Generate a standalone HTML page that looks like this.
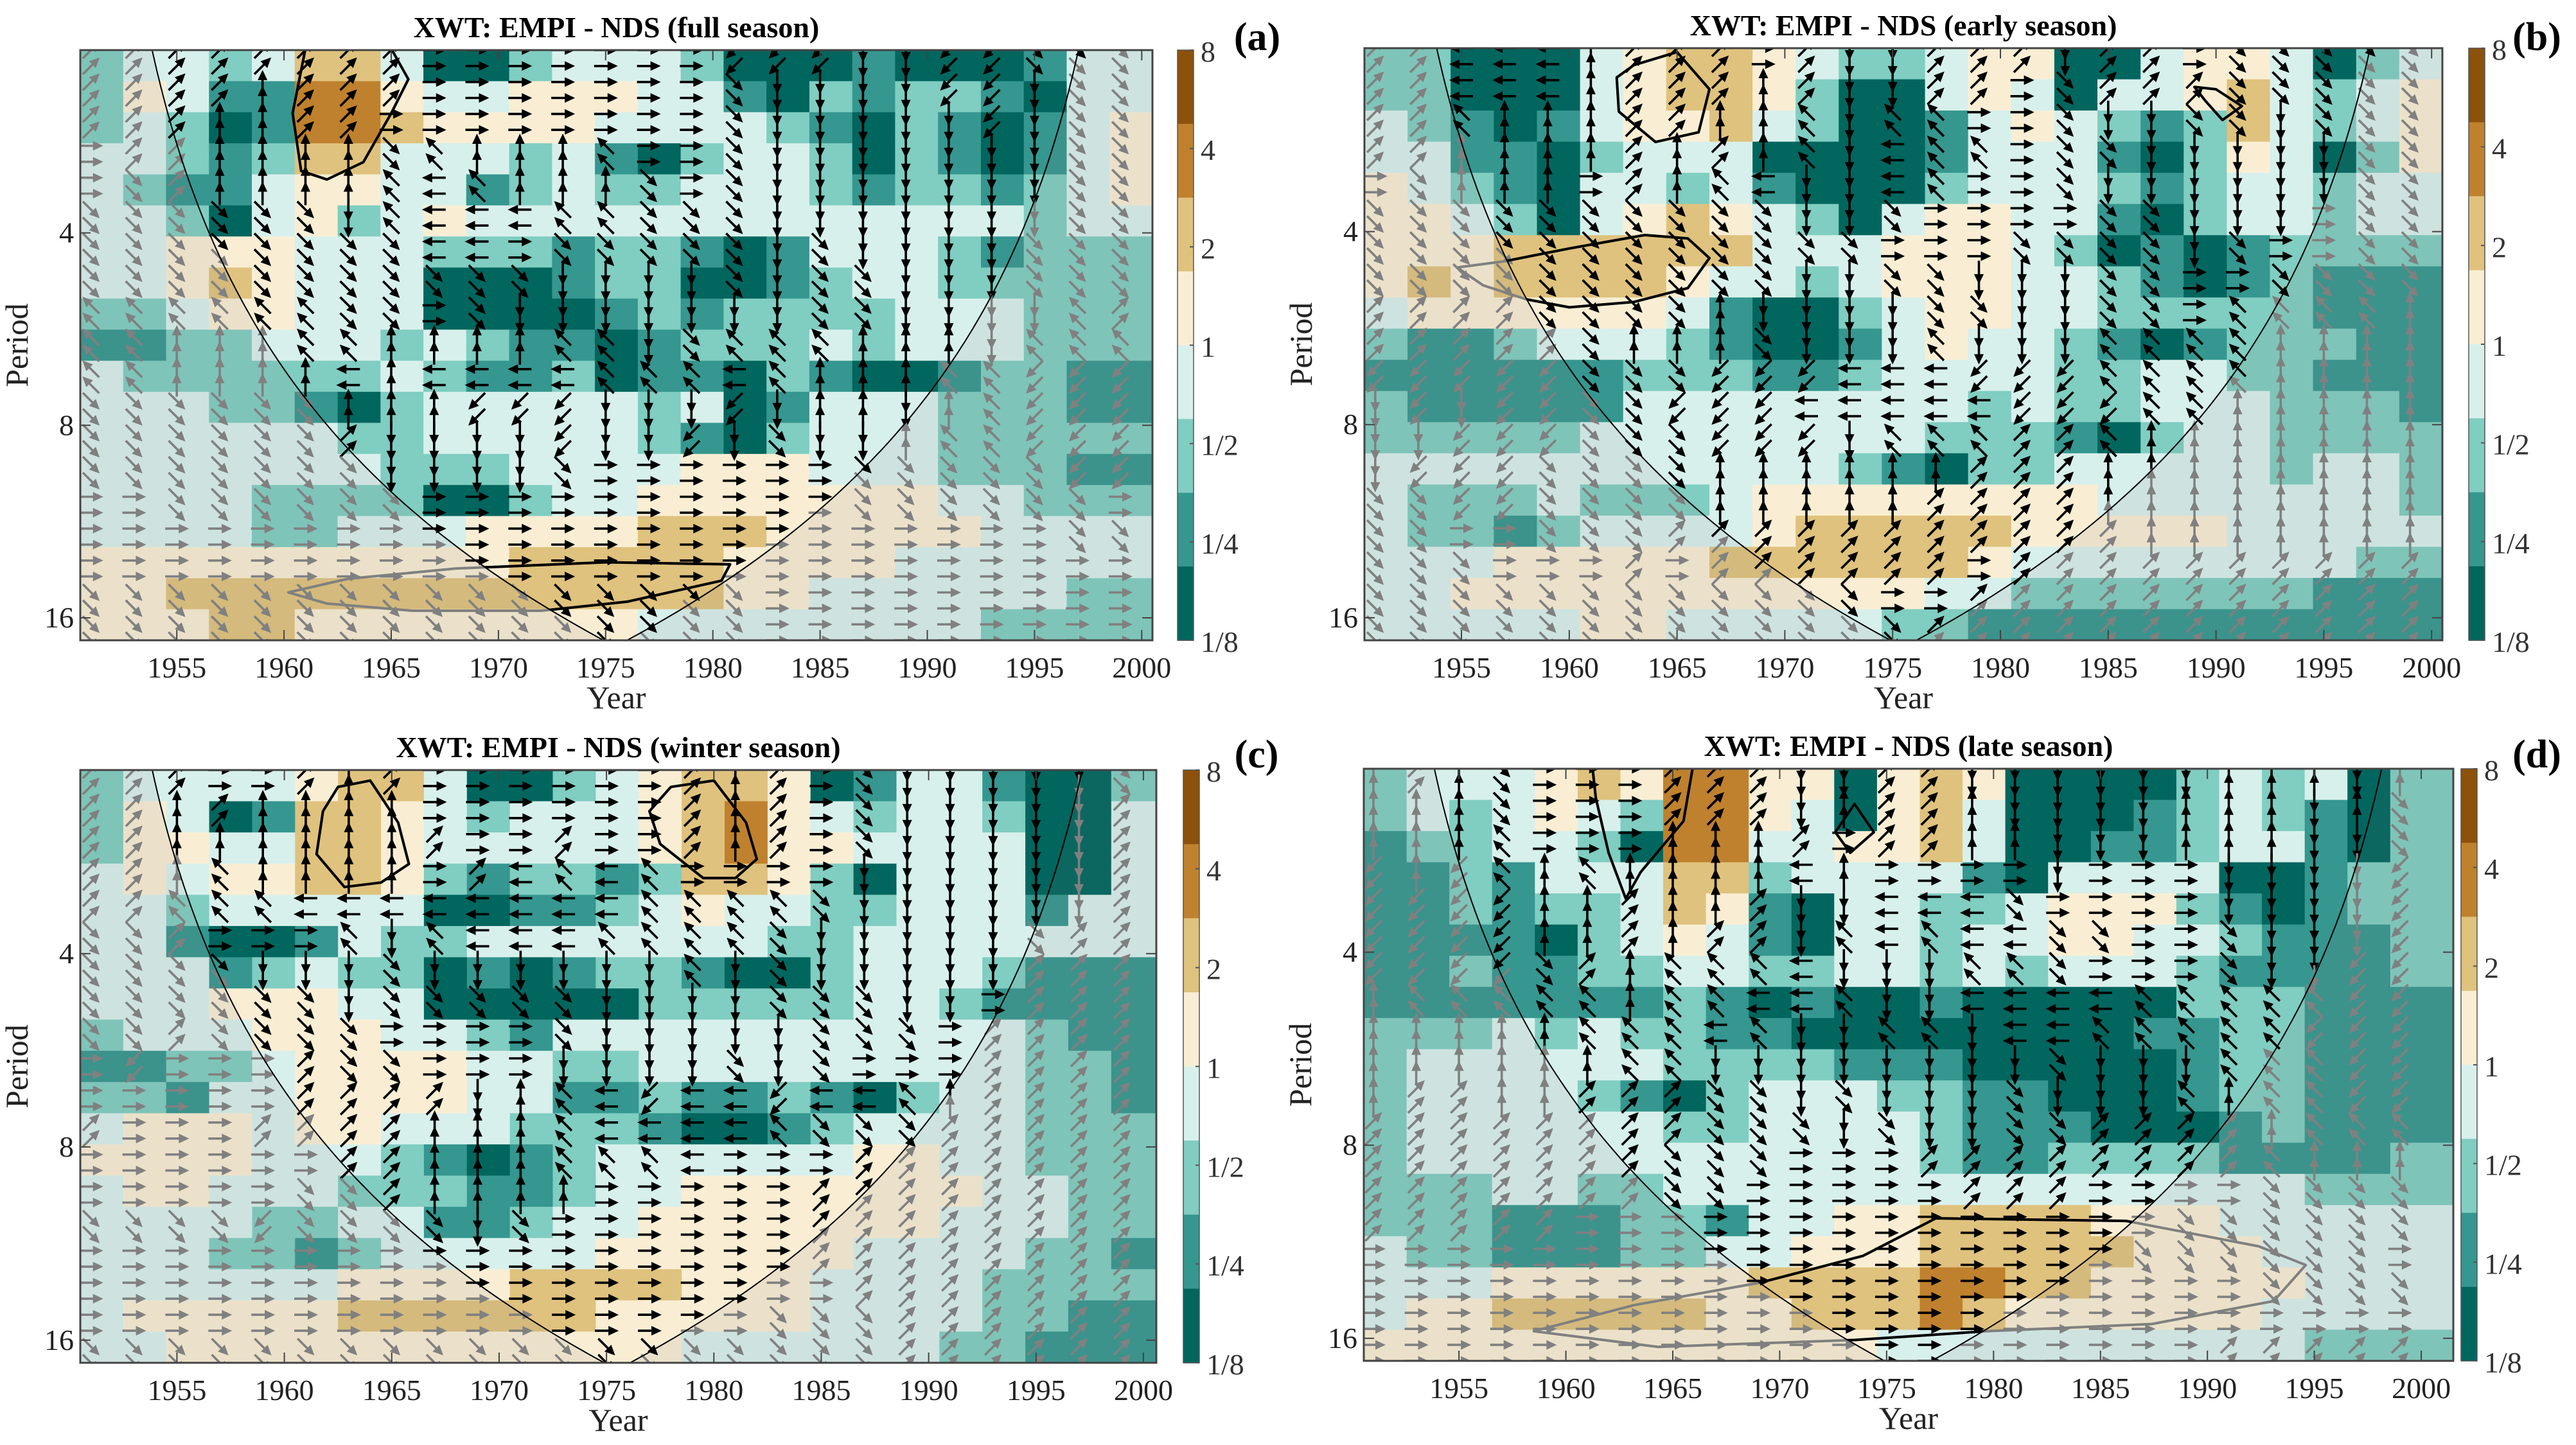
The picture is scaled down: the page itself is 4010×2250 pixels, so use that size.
<!DOCTYPE html>
<html><head><meta charset="utf-8"><title>XWT EMPI - NDS</title>
<style>html,body{margin:0;padding:0;background:#fff;}svg{display:block;font-family:"Liberation Serif",serif;}text{font-family:"Liberation Serif",serif;}</style>
</head><body>
<svg id="fig" width="4010" height="2250" viewBox="0 0 4010 2250" xmlns="http://www.w3.org/2000/svg" font-family="Liberation Serif, serif">
<rect x="0" y="0" width="4010" height="2250" fill="#fff"/>
</svg>
<script>
// ---------- data ----------
const yearTicks = [1955,1960,1965,1970,1975,1980,1985,1990,1995,2000];
const periodTicks = [4,8,16];
const cbTickLabels = ['8','4','2','1','1/2','1/4','1/8'];
const panelTitles = ['XWT: EMPI - NDS (full season)','XWT: EMPI - NDS (early season)','XWT: EMPI - NDS (winter season)','XWT: EMPI - NDS (late season)'];
const panelLetters = ['(a)','(b)','(c)','(d)'];
// colour levels 0 (1/8) .. 7 (8), 25 two-year columns x 19 period rows (top = short period)
const colorsA = [
"2332355300233320001000133",
"2431166433444331021221033",
"2320166544443333210210134",
"3321255333231023320210134",
"3211344331232233321221234",
"3320342343333333333333233",
"3344433322212210133321222",
"3345433300012200123322222",
"2234433300001212222333222",
"1122333232110122232333222",
"3222222321120110210012211",
"3332210233333230133322211",
"3333332233333210233322222",
"3333333222333344433322211",
"3333222200233444444433222",
"3333223334444555444443333",
"4444444444555554444333333",
"4455555555555554433333322",
"4445544444444333333332222"];
const colorsB = [
"2200034554322344003443023",
"2200034554200343033453234",
"3210134453200134321253234",
"3311023330000133310243024",
"4321033231000233321233233",
"4432034543203443310233233",
"4445555553334443201012222",
"4545555433234443321012111",
"3444444310023443322222111",
"2112333210013433210122211",
"1111112221123333223322111",
"2111113333333323223332221",
"2222233333333222102332222",
"3333333333321022333332332",
"3222322234444444433333332",
"3221233334555554444433333",
"3334444455555543333333322",
"3344444444444332222222111",
"3333344333332211111111111"];
const colorsC = [
"2333345530023455401331002",
"2430155432333456432332003",
"2443355433333456443333003",
"3434455421221255420333003",
"3323333300112343322333133",
"3310013223333333223333333",
"3331232201012210023332111",
"3334443300000222223321111",
"2333444332133333333333211",
"1122344443322333333333221",
"2213344443311211210233221",
"3444344333222100123333222",
"4444333210123333334433222",
"3443332221123344444443322",
"3333223311233444444433322",
"3332212333334444443333221",
"3333334444555544433332222",
"3444445555554444433332211",
"3344444444444433333322111"];
const colorsD = [
"2333454664404540000232302",
"2323432664304530001232102",
"1223320663344530011233102",
"1121333552333310333300122",
"1121223541033223444210122",
"1111023431033233443321112",
"1121122332233232333211112",
"1111111210100100000222111",
"2223232211000000001122111",
"2333333222211100000122111",
"2333321023332211000122111",
"2333333223333211100012111",
"2333333333333211222211112",
"2223322333333333333333222",
"2221112213344555544433333",
"3221112233444555554443333",
"3334444445555665544444333",
"3445555544555654444443333",
"4444444444443333333333222"];
// phase-arrow directions: E east, N north, W west, S south, a NE, b NW, c SW, d SE
const arrowsA = [
"aaaaaaaaEEEEEEEcccSSccddd","aaaaNaaaEEEEEEEdSSSSccSdd","aaaNNaaEEEEEEEEdSSSSScSdd",
"EaaNNNNdbNNNbEEdSSSSSSSdd","EdaNNNNbWbNNNdEdSSSSSSSdd","ddddddSbWWWbbdddSSSSSSSdd",
"ddddddddWWEdddddSdSSSSddd","dddddddddddSSSSdSddSSSddd","bbbbbbddEdSSSSSSSddSSSSba",
"bbNNNbbNNNNbbSdbbbNNNSbbb","bbNNNNWNWWWWbbbWbNNNbbccc","ddddddNNNcccSSScSNNSNbccc",
"ddddddaSSSScSScSdSSNbbccc","dddddddSSSSdEEEEEEdddddcc","EEddddddEEEEEEEEEEdddddd",
"EEEEEEEEEEEEEEEEEEEEEEEdd","EEEEEEEEEEEEEEEEEEEEEEEEE","ddddddddddddddddEEEEEEEEE",
"ddddddddddddddddEEEEEEEEE"];
const arrowsB = [
"aaWWWNaaaEaSSaaaSaaEddddd","aaWWWNaaaNaSSaaEdaaaddddd","aabNNNaaNNbSbbEEdSSddSddd",
"aaNNNNaNaNbSWbbEddSSSSSdd","EdNNNEaNbWSSWbEEdSSSSSSdd","ddddddddddSSdEEEEddSSSEdd",
"ddddddddddddEEEddddSdEEdd","ddddddddddSSddSSSddEEdddd","aaaaddddNSSSSddSSddEbbbbN",
"aaaaadNNNdSSSbSSSbbbbNNNN","cccccdddcccWWWcccbbbbNNNN","ScSccddcccWWWWWcccbbNNNNN",
"SScccdddcccSbbbaabNNNNNNN","ScccddddNNNNNNaaaNNNNNNNN","ddccddddNNNNNaaaaNNNNNNNN",
"ddEEdddaaaaaaaaaaaNNNNNNN","dddEEEaEaaaaaaEaaaaaaaaaa","ddddddddddddEEaaaaaaaaaaa",
"dddddddddddddaaaaaaaaaaaa"];
const arrowsC = [
"aaaEEaNaEEEEEEaNaEdSSSSSd","aaNaNNNNEEEEEEaNaEdSSSSSa","aaNNNNNNaEEaEEaNaEdSSSSSa",
"aaNbNNNNEaWbWbEEEESSSSSSa","aabbbWWWWWWWWbbbbdSSSSSSa","ddaEEEbSbWWWbbbbdSSSSSdaa",
"ddddSSSdSSSSSSbSdSSSSSaaa","ddddddSdddddSSSSdddSSEaaa","ddaddddEEEEdSSSSSdddEaaaa",
"EcEEEaddEEESSSSdSdEEEaaaa","EEEEEaaaaSNbWcWWcWWbNaaaa","aEEEaaaaNNNbWWWWbdddaaaaa",
"EEEEEEaaNNNbbbWEEEaaaaaaa","EEEEEddaNNNNEEEEEaaaaaaaa","ddddcddddSdEEEEEEaaaaaaaa",
"EEEEEEEEEEEEEEEEEaaaaaaaa","EEEEEEEEEEEEEEEEEEaaaaaaa","EEEEEEEEEEEEEEEEdddaaaaaa",
"dddddddddddddddddddaaaaaa"];
const arrowsD = [
"NaNdEEEaaaSSaaSSSSSSNNNSN","NNNdEEEaaaSNaaNSSSSNNNSNd","NNNbEEENNNaEaaNNSSSNNNSSd",
"cNcbNbNNNNWNEEEESEEESSSSc","ccccNNaNNaSSWWWdEEEESSSSc","ccccNNaNaaSbWbWWddEEdSSSc",
"ccccdaNbbbWSSSbbdEEEdSScc","NbbbbbNbbWWbSSWWWWbbbbbcc","NNNNNbbbWbSSbbSWWbbbbbccc",
"NNNNNNbbSSSSSSSSdSSSbbbcc","NaaNNaaaddSdSSSdSSSbNbbcc","aaaaaaaadddSdSSddaaaaNbbb",
"aaaaaaadddEEEaaaaaaaabNNN","aaaaaaaddEEEEEaaaEEEEdddd","aaaaaEEEEEEEEEEEEEEdddddd",
"EEEEEEEEEEEEEEEEEEdddddd","EEEEEEEEEEEEEEEEEEEEEdddd","EEEEEEEEEEEEEEEEEEEEEEEEE",
"EEEEEEEEEEEEEEEEEEEEaaaaa"];
// significance contours: [year, period]
const contoursA = [
 [[1961.0,2.06],[1960.4,2.6],[1960.8,3.2],[1962.0,3.3],[1963.7,3.1],[1965.0,2.6],[1965.8,2.3],[1965.0,2.06]],
 [[1960.2,14.6],[1963,13.9],[1968,13.4],[1975,13.1],[1980.8,13.2],[1980.4,14.0],[1976,15.1],[1972,15.6],[1966,15.6],[1962,15.2],[1960.2,14.6]]];
const contoursB = [
 [[1963,2.2],[1965,2.1],[1966.5,2.4],[1966,2.8],[1964,2.9],[1962.3,2.6],[1962.2,2.3],[1963,2.2]],
 [[1989,2.38],[1990,2.40],[1991.2,2.55],[1990.3,2.68],[1989.5,2.5],[1989,2.38]],
 [[1954.8,4.55],[1957,4.45],[1960,4.25],[1963.5,4.05],[1965.5,4.1],[1966.5,4.4],[1965.5,4.9],[1963,5.15],[1960,5.25],[1958,5.1],[1956,4.85],[1954.8,4.55]]];
const contoursC = [
 [[1962.5,2.2],[1964,2.15],[1965.3,2.5],[1965.8,2.9],[1964.5,3.1],[1962.8,3.15],[1961.5,2.8],[1961.8,2.4],[1962.5,2.2]],
 [[1978,2.2],[1980,2.15],[1981.5,2.5],[1982,2.85],[1981,3.05],[1979.5,3.05],[1977.5,2.7],[1977,2.4],[1978,2.2]]];
const contoursD = [
 [[1961.2,2.0],[1966,2.0],[1965.5,2.5],[1963.5,3.0],[1962.8,3.3],[1962,2.8],[1961.4,2.3],[1961.2,2.0]],
 [[1973.5,2.35],[1974.4,2.6],[1973.3,2.8],[1972.6,2.6],[1973.5,2.35]],
 [[1969.1,13.1],[1973.9,11.9],[1977.3,10.4],[1986.2,10.5],[1992.4,11.5],[1994.6,12.3],[1993.1,14.0],[1987.4,15.2],[1979.7,15.6],[1973.5,16.1],[1964.3,16.5],[1958.5,15.6],[1963.2,14.2],[1969.1,13.1]]];

// ---------- layout (not data) ----------
const palette = ['#01665e','#35978f','#80cdc1','#d8f0ec','#f9eed4','#dfc27d','#bf812d','#8c510a'];
const dirAngle = {E:0,a:-45,N:-90,b:-135,W:180,c:135,S:90,d:45};
const panels = [
 {L:125,R:1794,T:78,B:997,x0:1950.5,x1:2000.5,tL:1951,tR:1999.9,cbX:1833,letX:1957,letY:78,colors:colorsA,arrows:arrowsA,contours:contoursA},
 {L:2124,R:3802,T:75,B:997,x0:1950.5,x1:2000.5,tL:1951,tR:2000,cbX:3843,letX:3949,letY:78,colors:colorsB,arrows:arrowsB,contours:contoursB},
 {L:125,R:1800,T:1199,B:2122,x0:1950.5,x1:2000.6,tL:1951,tR:2000,cbX:1842,letX:1956,letY:1195,colors:colorsC,arrows:arrowsC,contours:contoursC},
 {L:2123,R:3819,T:1197,B:2119,x0:1950.55,x1:2001.5,tL:1951,tR:2001,cbX:3831,letX:3949,letY:1195,colors:colorsD,arrows:arrowsD,contours:contoursD}];
const P0 = 1.05, P1 = 4.117, COIK = 0.726;
const FONT = 'Liberation Serif, serif';
const NS = 'http://www.w3.org/2000/svg';
const svg = document.getElementById('fig');
const defs = document.createElementNS(NS,'defs');
svg.appendChild(defs);
function mk(tag, attrs, parent){
  const e = document.createElementNS(NS, tag);
  for (const k in attrs) e.setAttribute(k, attrs[k]);
  if (tag === 'text') e.setAttribute('font-family', FONT);
  (parent||svg).appendChild(e);
  return e;
}
const arrowShape = 'M-18,-1.8 L3,-1.8 L3,-7.5 L19,0 L3,7.5 L3,1.8 L-18,1.8 Z';

panels.forEach((p, pi) => {
  const xs = yr => p.L + (yr - p.x0) / (p.x1 - p.x0) * (p.R - p.L);
  const ys = lp => p.T + (lp - P0) / (P1 - P0) * (p.B - p.T);
  const g = mk('g', {});
  
  
  const clipId = 'clip' + pi, coiId = 'coi' + pi;
  const cp = mk('clipPath', {id: clipId}, defs);
  mk('rect', {x:p.L, y:p.T, width:p.R-p.L, height:p.B-p.T}, cp);
  const leftPts = [], rightPts = [];
  for (let v = P0 - 0.3; v <= P1 + 0.3; v += 0.02) {
    const per = Math.pow(2, v);
    const tl = p.tL + per / COIK, tr = p.tR - per / COIK;
    if (tl > tr) break;
    leftPts.push([xs(tl), ys(v)]);
    rightPts.unshift([xs(tr), ys(v)]);
  }
  const mid = (p.tL + p.tR) / 2;
  const vEnd = Math.log2(COIK * (mid - p.tL));
  const coiPts = leftPts.concat([[xs(mid), ys(vEnd)]], rightPts);
  const coiD = 'M' + coiPts.map(q => q[0].toFixed(1) + ',' + q[1].toFixed(1)).join(' L') + ' Z';
  const cc = mk('clipPath', {id: coiId}, defs);
  mk('path', {d: coiD}, cc);

  const plot = mk('g', {'clip-path': 'url(#' + clipId + ')'}, g);
  
  
  const nr = p.colors.length;
  p.colors.forEach((row, r) => {
    for (let c = 0; c < 25; c++) {
      const lvl = +row[c];
      const xa = xs(p.x0 + 2 * c), xb = c === 24 ? p.R : xs(p.x0 + 2 * c + 2);
      const ya = ys(P0 + r * (P1 - P0) / nr), yb = ys(P0 + (r + 1) * (P1 - P0) / nr);
      const cell = mk('rect', {x:xa.toFixed(1), y:ya.toFixed(1), width:(xb-xa+0.8).toFixed(1), height:(yb-ya+0.8).toFixed(1), fill:palette[lvl]}, plot);
      
      
    }
  });
  const shade = mk('path', {d: 'M' + p.L + ',' + (p.T-50) + ' H' + p.R + ' V' + (p.B+50) + ' H' + p.L + ' Z ' + coiD, fill:'rgba(120,120,120,0.10)', 'fill-rule':'evenodd'}, plot);
  
  
  for (let c = 0; c < 25; c++) {
    const t = 1951 + 2 * c;
    for (let k = 0; k <= 37; k++) {
      const v = P0 + k * (P1 - P0) / 37;
      const rr = Math.min(nr - 1, Math.floor(k * nr / 38));
      const ch = p.arrows[rr][c] || 'E';
      const per = Math.pow(2, v);
      const inside = per < COIK * Math.min(t - p.tL, p.tR - t);
      const ar = mk('path', {d: arrowShape, fill: inside ? '#000' : '#808080', transform: 'translate(' + xs(t).toFixed(1) + ',' + ys(v).toFixed(1) + ') rotate(' + dirAngle[ch] + ')'}, plot);
      
      
    }
  }
  p.contours.forEach(ct => {
    const d = 'M' + ct.map(q => xs(q[0]).toFixed(1) + ',' + ys(Math.log2(q[1])).toFixed(1)).join(' L') + ' Z';
    const gl = mk('path', {d: d, fill:'none', stroke:'#808080', 'stroke-width':4, 'stroke-linejoin':'round'}, plot);
    
    
    const gi = mk('g', {'clip-path': 'url(#' + coiId + ')'}, plot);
    const bl = mk('path', {d: d, fill:'none', stroke:'#000', 'stroke-width':4, 'stroke-linejoin':'round'}, gi);
    
    
  });
  const coiLine = mk('path', {d: coiD, fill:'none', stroke:'#000', 'stroke-width':2}, plot);
  
  
  const frame = mk('rect', {x:p.L, y:p.T, width:p.R-p.L, height:p.B-p.T, fill:'none', stroke:'#444', 'stroke-width':3}, g);
  
  
  yearTicks.forEach(yr => {
    const x = xs(yr);
    mk('path', {d:'M' + x + ',' + p.B + ' v-16 M' + x + ',' + p.T + ' v16', stroke:'#444', 'stroke-width':2}, g);
    const tl = mk('text', {x:x, y:p.B + 58, 'font-size':46, 'text-anchor':'middle', fill:'#222'}, g);
    tl.textContent = yr;
    
    
  });
  periodTicks.forEach(pr => {
    const y = ys(Math.log2(pr));
    mk('path', {d:'M' + p.L + ',' + y + ' h16 M' + p.R + ',' + y + ' h-16', stroke:'#444', 'stroke-width':2}, g);
    const tl = mk('text', {x:p.L - 10, y:y + 15, 'font-size':46, 'text-anchor':'end', fill:'#222'}, g);
    tl.textContent = pr;
    
    
  });
  const xl = mk('text', {x:(p.L + p.R) / 2, y:p.B + 106, 'font-size':50, 'text-anchor':'middle', fill:'#222'}, g);
  xl.textContent = 'Year';
  
  
  const yl = mk('text', {x:0, y:0, 'font-size':50, 'text-anchor':'middle', fill:'#222', transform:'translate(' + (p.L - 82) + ',' + ((p.T + p.B) / 2) + ') rotate(-90)'}, g);
  yl.textContent = 'Period';
  
  
  const tt = mk('text', {x:(p.L + p.R) / 2, y:p.T - 20, 'font-size':46, 'font-weight':'bold', 'text-anchor':'middle', fill:'#000'}, g);
  tt.textContent = panelTitles[pi];
  
  
  const lt = mk('text', {x:p.letX, y:p.letY, 'font-size':62, 'font-weight':'bold', 'text-anchor':'middle', fill:'#000'}, g);
  lt.textContent = panelLetters[pi];
  
  
  const cb = mk('g', {}, g);
  
  
  const cbH = p.B - p.T;
  for (let i = 0; i < 8; i++) {
    const band = mk('rect', {x:p.cbX, y:(p.T + i * cbH / 8).toFixed(1), width:25, height:(cbH / 8 + 0.8).toFixed(1), fill:palette[7 - i]}, cb);
    
    
  }
  mk('rect', {x:p.cbX, y:p.T, width:25, height:cbH, fill:'none', stroke:'#555', 'stroke-width':1.5}, cb);
  cbTickLabels.forEach((lab, i) => {
    const y = p.T + i * cbH / 6;
    mk('path', {d:'M' + (p.cbX + 25) + ',' + y + ' h-6', stroke:'#555', 'stroke-width':2}, cb);
    const t = mk('text', {x:p.cbX + 36, y:y + 18, 'font-size':46, fill:'#333'}, cb);
    t.textContent = lab;
    
    
  });
});
</script>
</body></html>
